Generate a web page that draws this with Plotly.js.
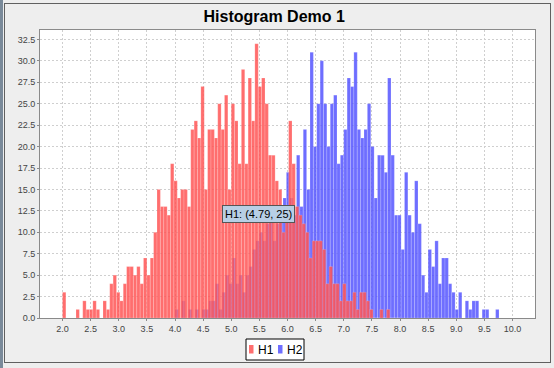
<!DOCTYPE html>
<html><head><meta charset="utf-8">
<script src="https://cdn.plot.ly/plotly-3.0.1.min.js"></script>
<style>
html,body{margin:0;padding:0;background:#EEEEEE;}
#wrap{position:relative;width:554px;height:368px;overflow:hidden;background:#EEEEEE;}
#chart{position:absolute;left:0;top:0;width:554px;height:368px;}
#frame{position:absolute;left:4px;top:3px;width:545px;height:358px;border:1px solid #606060;pointer-events:none;}
#leftbar{position:absolute;left:0;top:0;width:3px;height:368px;background:#7A8A9A;}
</style></head>
<body><div id="wrap"><div id="chart"></div><div id="frame"></div><div id="leftbar"></div></div>
<script>
// Histogram data: 100 bins each
var h1Start = 2.0, h2Start = 4.0, binWidth = 0.06;
var h1Counts = [3,0,0,0,1,0,2,1,1,2, 1,0,2,1,4,5,3,2,4,6, 6,5,6,4,7,5,7,10,15,13,
  13,12,18,16,14,15,15,13,22,23, 21,27,15,22,22,21,25,22,26,15, 25,23,18,29,18,28,23,32,27,28,
  25,19,19,16,15,10,13,23,18,13, 12,11,10,7,9,9,9,8,4,6, 4,4,2,4,2,2,3,1,3,3,
  2,1,0,0,1,0,1,0,0,0];
var h2Counts = [1,0,2,0,1,0,1,0,1,1, 2,2,4,1,3,5,4,7,4,5, 3,5,6,8,9,10,9,11,12,9,
  11,12,14,17,14,12,19,13,22,15, 31,20,25,30,25,20,25,26,18,19, 22,28,27,31,22,21,22,25,20,14,
  19,19,17,28,19,12,12,8,17,12, 10,16,11,5,3,8,6,9,4,7, 7,4,3,1,3,0,2,1,2,2,
  0,1,1,0,0,1,0,0,0,0];
var seriesNames = ["H1", "H2"];
var seriesColors = ['rgb(255,85,85)', 'rgb(85,85,255)'];
var xTicks = [2.0,2.5,3.0,3.5,4.0,4.5,5.0,5.5,6.0,6.5,7.0,7.5,8.0,8.5,9.0,9.5,10.0];
var yTicks = [0,2.5,5,7.5,10,12.5,15,17.5,20,22.5,25,27.5,30,32.5];

function centers(start, n){ var a=[]; for(var i=0;i<n;i++) a.push(+(start+binWidth*(i+0.5)).toFixed(4)); return a; }

var tH2 = {type:'bar', name:seriesNames[1], x:centers(h2Start,h2Counts.length), y:h2Counts, width:binWidth,
  marker:{color:seriesColors[1], line:{color:'rgba(255,255,255,0.35)', width:0.5}}, opacity:0.85, hoverinfo:'none', showlegend:false};
var tH1 = {type:'bar', name:seriesNames[0], x:centers(h1Start,h1Counts.length), y:h1Counts, width:binWidth,
  marker:{color:seriesColors[0], line:{color:'rgba(255,255,255,0.35)', width:0.5}}, opacity:0.85, hoverinfo:'none', showlegend:false};

// plot area in pixels: x 40..535, y 30..318
var PL=40, PR=535, PT=30, PB=318;
function px(xp){ return (xp-PL)/(PR-PL); }
function py(yp){ return (PB-yp)/(PB-PT); }

var fam = 'Liberation Sans, Arial, sans-serif';
var axFont = {family:fam, size:9, color:'#444'};
var shapes = [
  {type:'rect', xref:'paper', yref:'paper', x0:px(246), x1:px(304), y0:py(360), y1:py(339), fillcolor:'#FFFFFF', line:{color:'#000', width:1}},
  {type:'rect', xref:'paper', yref:'paper', x0:px(249), x1:px(253.5), y0:py(353.5), y1:py(345), fillcolor:seriesColors[0], opacity:0.85, line:{width:0}},
  {type:'rect', xref:'paper', yref:'paper', x0:px(278), x1:px(282.5), y0:py(353.5), y1:py(345), fillcolor:seriesColors[1], opacity:0.85, line:{width:0}}
];
var annotations = [
  {xref:'paper', yref:'paper', x:px(255.5), y:py(349.5), xanchor:'left', yanchor:'middle', text:seriesNames[0], showarrow:false, font:{family:fam, size:12, color:'#000'}},
  {xref:'paper', yref:'paper', x:px(284.5), y:py(349.5), xanchor:'left', yanchor:'middle', text:seriesNames[1], showarrow:false, font:{family:fam, size:12, color:'#000'}},
  {xref:'x', yref:'y', x:4.83, y:13.15, xanchor:'left', yanchor:'top',
    text:'H1: (4.79, 25)', showarrow:false, bgcolor:'#B8CFE5', bordercolor:'#555', borderwidth:1, borderpad:2,
    font:{family:fam, size:11, color:'#000'}}
];

var layout = {
  width:554, height:368,
  paper_bgcolor:'rgba(0,0,0,0)', plot_bgcolor:'#FFFFFF',
  margin:{l:PL, r:554-PR, t:PT, b:368-PB, pad:0, autoexpand:false},
  barmode:'overlay', bargap:0, showlegend:false,
  title:{text:'<b>Histogram Demo 1</b>', font:{family:fam, size:16, color:'#000'}, x:0.495, xanchor:'center', y:0.955, yanchor:'middle'},
  xaxis:{range:[1.6,10.4], tickvals:xTicks, ticktext:xTicks.map(function(v){return v.toFixed(1);}),
    showgrid:true, gridcolor:'#CFCFCF', griddash:'2px,2px', gridwidth:1,
    showline:true, mirror:true, linecolor:'#8A8A8A', linewidth:1,
    ticks:'outside', ticklen:2, tickcolor:'#8A8A8A', tickfont:axFont, zeroline:false, fixedrange:true},
  yaxis:{range:[0,33.6], tickvals:yTicks, ticktext:yTicks.map(function(v){return v.toFixed(1);}),
    showgrid:true, gridcolor:'#CFCFCF', griddash:'2px,2px', gridwidth:1,
    showline:true, mirror:true, linecolor:'#8A8A8A', linewidth:1,
    ticks:'outside', ticklen:2, tickcolor:'#8A8A8A', tickfont:axFont, zeroline:false, fixedrange:true},
  shapes:shapes,
  annotations:annotations
};
Plotly.newPlot('chart', [tH2, tH1], layout, {displayModeBar:false, staticPlot:true});
</script></body></html>
